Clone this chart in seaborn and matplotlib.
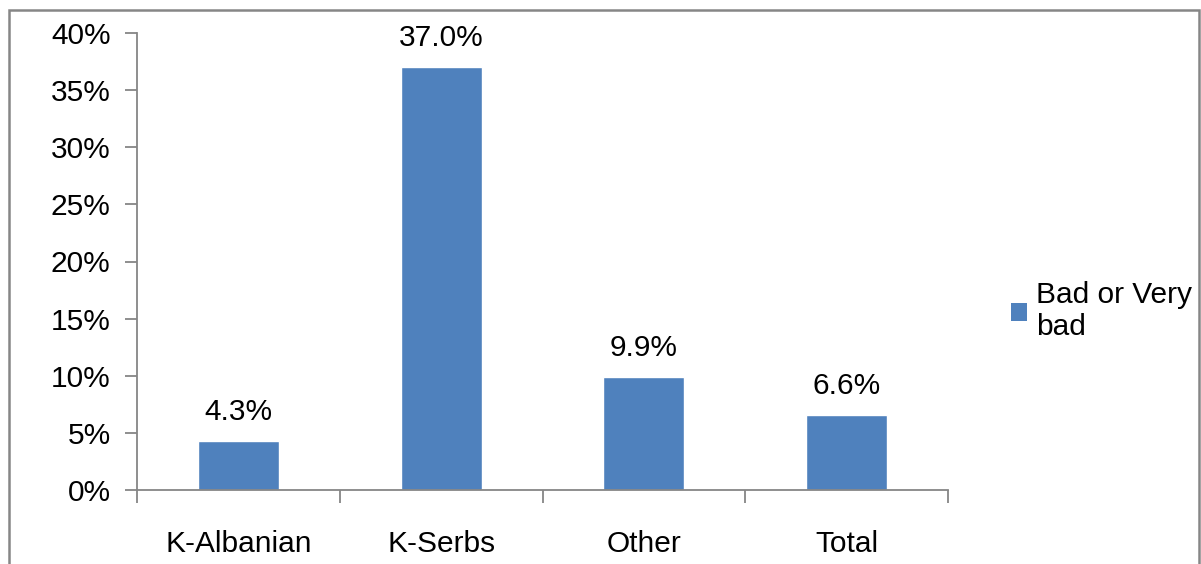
import seaborn as sns
import matplotlib.pyplot as plt
import pandas as pd
from matplotlib.patches import Rectangle, Patch
from matplotlib.ticker import FixedLocator

groups = ["K-Albanian", "K-Serbs", "Other", "Total"]
bad_share = [4.3, 37.0, 9.9, 6.6]
yticks = [0, 5, 10, 15, 20, 25, 30, 35, 40]
series_name = "Bad or Very\nbad"

df = pd.DataFrame({"group": groups, "value": bad_share})

sns.set_style("white")
plt.rcParams["font.family"] = ["Liberation Sans", "DejaVu Sans"]
plt.rcParams["text.color"] = "black"
plt.rcParams["xtick.color"] = "black"
plt.rcParams["ytick.color"] = "black"
bar_color = "#4F81BD"
axis_gray = "#868686"
fs = 21.5

fig = plt.figure(figsize=(12.01, 5.64), dpi=100)
ax = fig.add_axes([137 / 1201, 1 - 490 / 564, 811 / 1201, 457 / 564])

sns.barplot(data=df, x="group", y="value", color=bar_color, width=0.4,
            saturation=1, ax=ax)

for i, v in enumerate(bad_share):
    ax.text(i, v + 1.3, f"{v:.1f}%", ha="center", va="bottom", fontsize=fs,
            color="black")

ax.set_ylim(0, 40)
ax.set_xlim(-0.5, len(groups) - 0.5)
ax.set_yticks(yticks)
ax.set_yticklabels([f"{t}%" for t in yticks], fontsize=fs)
ax.set_xticks(range(len(groups)))
ax.set_xticklabels(groups, fontsize=fs)
ax.tick_params(axis="x", which="major", bottom=True, length=0, pad=29,
               labelcolor="black")
ax.tick_params(axis="y", left=True, length=9, width=1.3, color=axis_gray,
               pad=10, labelcolor="black")
ax.xaxis.set_minor_locator(FixedLocator([i - 0.5 for i in range(len(groups) + 1)]))
ax.tick_params(axis="x", which="minor", bottom=True, length=9, width=1.3,
               color=axis_gray)
ax.set_xlabel("")
ax.set_ylabel("")

for side in ["top", "right"]:
    ax.spines[side].set_visible(False)
for side in ["left", "bottom"]:
    ax.spines[side].set_color(axis_gray)
    ax.spines[side].set_linewidth(1.3)

handle = Patch(facecolor=bar_color, edgecolor="none")
fig.legend([handle], [series_name], loc="upper left",
           bbox_to_anchor=(1011 / 1201, 1 - 281 / 564), frameon=False,
           fontsize=fs, handlelength=0.55, handleheight=0.55, handletextpad=0.3,
           borderaxespad=0, borderpad=0, labelcolor="black")

fig.patches.append(Rectangle((9 / 1201, -0.05), (1199 - 9) / 1201, 1.05 - 10 / 564,
                             transform=fig.transFigure, fill=False,
                             edgecolor=axis_gray, linewidth=1.8))

fig.savefig("out.png", dpi=100)
